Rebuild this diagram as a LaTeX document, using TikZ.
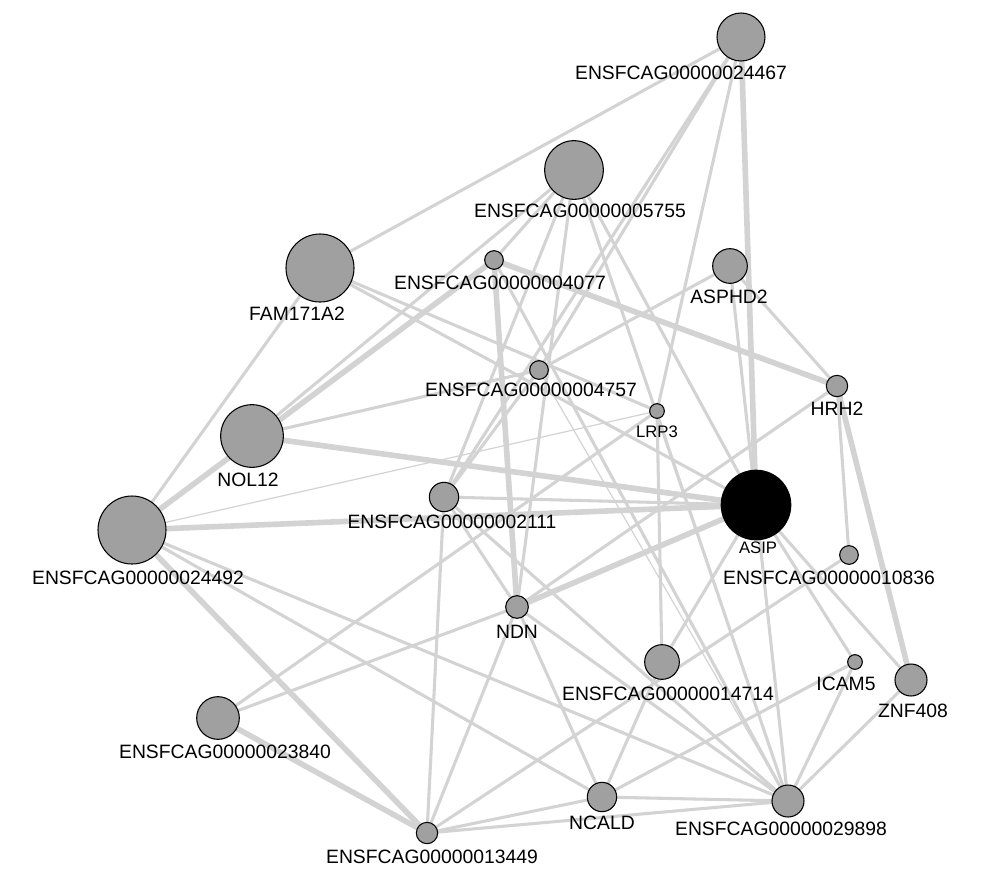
\documentclass[tikz,border=0pt]{standalone}
\usepackage{fontspec}
\setmainfont{Liberation Sans}
\usetikzlibrary{backgrounds}
\begin{document}
\begin{tikzpicture}[x=0.75pt,y=0.75pt,yscale=-1,xscale=1,
  gene/.style={circle,draw=black,line width=0.8pt,fill={rgb,255:red,160;green,160;blue,160},inner sep=0pt},
  lab/.style={font=\fontsize{14.5}{16}\selectfont,inner sep=0.75pt},
  edge/.style={draw={rgb,255:red,211;green,211;blue,211},line width=2.3pt},
  thin/.style={draw={rgb,255:red,211;green,211;blue,211},line width=0.9pt},
  thick/.style={draw={rgb,255:red,211;green,211;blue,211},line width=4.2pt}]
\useasboundingbox (0,0) rectangle (1000,883);

% Genes
\node [gene,minimum size=36pt] (g24467) at (741,37) {};
\node [gene,minimum size=44pt] (g5755) at (574,170) {};
\node [gene,minimum size=51pt] (fam) at (320,268) {};
\node [gene,minimum size=14pt] (g4077) at (494,260) {};
\node [gene,minimum size=26pt] (asphd) at (730,266) {};
\node [gene,minimum size=14pt] (g4757) at (539,370) {};
\node [gene,minimum size=11pt] (lrp) at (657,411) {};
\node [gene,minimum size=16pt] (hrh) at (837,386) {};
\node [gene,minimum size=47pt] (nol) at (252,436) {};
\node [gene,minimum size=22pt] (g2111) at (444,497) {};
\node [circle,fill=black,inner sep=0pt,minimum size=53pt] (asip) at (756,505) {};
\node [gene,minimum size=14pt] (g10836) at (849,555) {};
\node [gene,minimum size=51pt] (g24492) at (132,530) {};
\node [gene,minimum size=17pt] (ndn) at (517,607) {};
\node [gene,minimum size=26pt] (g14714) at (662,662) {};
\node [gene,minimum size=11pt] (icam) at (855,662) {};
\node [gene,minimum size=24pt] (znf) at (911,680) {};
\node [gene,minimum size=32pt] (g23840) at (218,718) {};
\node [gene,minimum size=22pt] (ncald) at (602,797) {};
\node [gene,minimum size=24pt] (g29898) at (788,801) {};
\node [gene,minimum size=16pt] (g13449) at (427,833) {};

% Links
\begin{scope}[on background layer]
\draw [edge] (g24467.center) -- (fam.center);
\draw [edge] (g24467.center) -- (g2111.center);
\draw [edge] (g24467.center) -- (g4757.center);
\draw [edge] (g24467.center) -- (lrp.center);
\draw [thick] (g24467.center) -- (asip.center);
\draw [edge] (g5755.center) -- (g4077.center);
\draw [edge] (g5755.center) -- (g2111.center);
\draw [edge] (g5755.center) -- (ndn.center);
\draw [edge] (g5755.center) -- (asip.center);
\draw [edge] (g5755.center) -- (g29898.center);
\draw [edge] (g5755.center) -- (nol.center);
\draw [thick] (g4077.center) -- (g24492.center);
\draw [thick] (g4077.center) -- (hrh.center);
\draw [thick] (g4077.center) -- (ndn.center);
\draw [edge] (g4077.center) -- (g29898.center);
\draw [edge] (fam.center) -- (g24492.center);
\draw [edge] (fam.center) -- (asip.center);
\draw [edge] (fam.center) -- (lrp.center);
\draw [edge] (asphd.center) -- (g4757.center);
\draw [edge] (asphd.center) -- (hrh.center);
\draw [edge] (asphd.center) -- (asip.center);
\draw [edge] (g4757.center) -- (nol.center);
\draw [thin] (g4757.center) -- (g29898.center);
\draw [edge] (g4757.center) -- (g2111.center);
\draw [thick] (hrh.center) -- (znf.center);
\draw [edge] (hrh.center) -- (ndn.center);
\draw [edge] (hrh.center) -- (g10836.center);
\draw [thick] (nol.center) -- (asip.center);
\draw [thick] (g24492.center) -- (asip.center);
\draw [edge] (g2111.center) -- (asip.center);
\draw [edge] (g2111.center) -- (ndn.center);
\draw [edge] (g2111.center) -- (g13449.center);
\draw [edge] (g2111.center) -- (g29898.center);
\draw [thick] (asip.center) -- (ndn.center);
\draw [edge] (asip.center) -- (g14714.center);
\draw [edge] (asip.center) -- (g29898.center);
\draw [edge] (asip.center) -- (znf.center);
\draw [edge] (asip.center) -- (icam.center);
\draw [thick] (g24492.center) -- (g13449.center);
\draw [edge] (g24492.center) -- (g29898.center);
\draw [edge] (g24492.center) -- (ncald.center);
\draw [thin] (g24492.center) -- (lrp.center);
\draw [edge] (ndn.center) -- (g23840.center);
\draw [edge] (ndn.center) -- (g13449.center);
\draw [edge] (ndn.center) -- (ncald.center);
\draw [edge] (ndn.center) -- (g29898.center);
\draw [edge] (g23840.center) -- (lrp.center);
\draw [thick] (g23840.center) -- (g13449.center);
\draw [edge] (g13449.center) -- (ncald.center);
\draw [edge] (g13449.center) -- (g29898.center);
\draw [edge] (icam.center) -- (ncald.center);
\draw [edge] (icam.center) -- (g29898.center);
\draw [edge] (ncald.center) -- (g29898.center);
\draw [edge] (ncald.center) -- (g14714.center);
\draw [edge] (znf.center) -- (g29898.center);
\draw [edge] (g10836.center) -- (g13449.center);
\draw [edge] (lrp.center) -- (g14714.center);
\draw [thin] (lrp.center) -- (g29898.center);
\end{scope}

% Text
\node [lab] (l24467) at (681,73) {ENSFCAG00000024467};
\node [lab] (l5755) at (580,211) {ENSFCAG00000005755};
\node [lab] (lfam) at (297,314) {FAM171A2};
\node [lab] (l4077) at (500,283) {ENSFCAG00000004077};
\node [lab] (lasphd) at (729,297) {ASPHD2};
\node [lab] (l4757) at (531,390) {ENSFCAG00000004757};
\node [lab,font=\fontsize{12.5}{14}\selectfont] (llrp) at (657,432) {LRP3};
\node [lab] (lhrh) at (837,409) {HRH2};
\node [lab] (lnol) at (248,480) {NOL12};
\node [lab] (l2111) at (452,522) {ENSFCAG00000002111};
\node [lab,font=\fontsize{12.5}{14}\selectfont] (lasip) at (758,548) {ASIP};
\node [lab] (l10836) at (829,578) {ENSFCAG00000010836};
\node [lab] (l24492) at (138,578) {ENSFCAG00000024492};
\node [lab] (lndn) at (517,632) {NDN};
\node [lab] (l14714) at (668,694) {ENSFCAG00000014714};
\node [lab] (licam) at (846,684) {ICAM5};
\node [lab] (lznf) at (913,711) {ZNF408};
\node [lab] (l23840) at (225,752) {ENSFCAG00000023840};
\node [lab] (lncald) at (602,823) {NCALD};
\node [lab] (l29898) at (781,829) {ENSFCAG00000029898};
\node [lab] (l13449) at (432,857) {ENSFCAG00000013449};
\end{tikzpicture}
\end{document}
